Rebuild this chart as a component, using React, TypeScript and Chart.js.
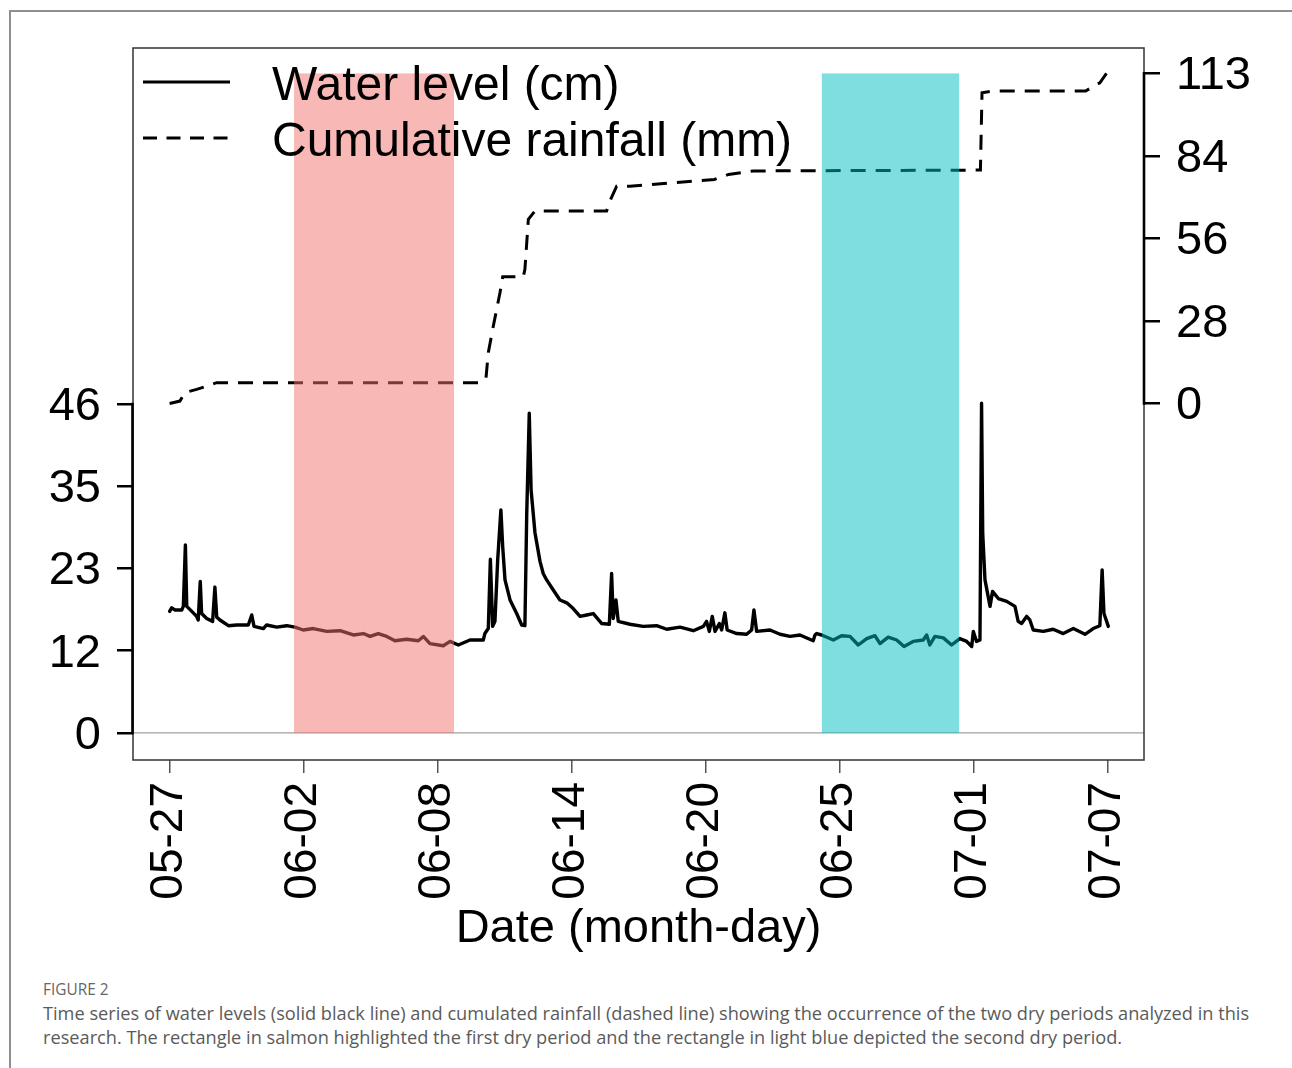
import React, { useEffect, useRef } from "react";
import { Chart, registerables } from "chart.js";

Chart.register(...registerables);

const FONT = "'Liberation Sans', Arial, Helvetica, sans-serif";

// ---- Data (x = days since 05-27) ----
const xTickValues = [0, 5.857, 11.714, 17.571, 23.429, 29.286, 35.143, 41];
const xTickLabels = ["05-27", "06-02", "06-08", "06-14", "06-20", "06-25", "07-01", "07-07"];

const leftTickValues = [0, 11.5, 23, 34.5, 46];
const leftTickLabels = ["0", "12", "23", "35", "46"];

const rightTickValues = [0, 28.25, 56.5, 84.75, 113];
const rightTickLabels = ["0", "28", "56", "84", "113"];

const waterDays = [
  0.0, 0.09, 0.24, 0.53, 0.6, 0.69, 0.75, 0.97, 1.18, 1.25, 1.34, 1.4, 1.62, 1.88, 1.98, 2.06, 2.2, 2.57, 2.93,
  3.44, 3.59, 3.69, 4.1, 4.24, 4.68, 5.12, 5.48, 5.84, 6.28, 6.87, 7.45, 8.03, 8.47, 8.76, 9.12, 9.49, 9.85,
  10.36, 10.87, 11.09, 11.38, 11.96, 12.26, 12.62, 13.13, 13.71, 13.78, 13.93, 14.02, 14.12, 14.22, 14.34,
  14.48, 14.56, 14.66, 14.88, 15.17, 15.39, 15.53, 15.61, 15.72, 15.8, 15.97, 16.19, 16.33, 16.48, 16.77,
  17.06, 17.36, 17.64, 17.94, 18.23, 18.52, 18.89, 19.22, 19.32, 19.39, 19.51, 19.61, 20.12, 20.7, 21.29,
  21.73, 22.31, 22.89, 23.33, 23.47, 23.59, 23.72, 23.84, 24.03, 24.13, 24.27, 24.37, 24.79, 25.22, 25.44,
  25.54, 25.66, 26.24, 26.68, 27.12, 27.55, 28.13, 28.21, 28.28, 28.5, 29.01, 29.37, 29.74, 30.1, 30.47,
  30.83, 31.05, 31.41, 31.78, 32.1, 32.5, 32.94, 33.09, 33.23, 33.45, 33.82, 34.18, 34.54, 34.84, 35.06,
  35.13, 35.27, 35.42, 35.49, 35.54, 35.64, 35.86, 35.97, 36.22, 36.59, 36.95, 37.09, 37.24, 37.46, 37.6,
  37.75, 38.19, 38.62, 39.06, 39.5, 40.01, 40.37, 40.66, 40.76, 40.84, 41.03,
];
const waterLevel = [
  17.0, 17.5, 17.2, 17.2, 17.7, 26.3, 17.7, 17.0, 16.3, 15.8, 21.2, 16.7, 16.0, 15.6, 20.4, 16.2, 15.8, 15.0, 15.1,
  15.1, 16.5, 14.9, 14.6, 15.1, 14.8, 15.0, 14.8, 14.4, 14.6, 14.2, 14.3, 13.7, 13.9, 13.5, 13.9, 13.5, 12.9,
  13.1, 12.9, 13.5, 12.5, 12.2, 12.8, 12.3, 13.0, 13.0, 13.9, 14.6, 24.3, 14.9, 15.6, 24.2,
  31.2, 26.0, 21.4, 18.6, 16.7, 15.1, 15.0, 30.7, 44.7, 34.0, 28.0, 24.0, 22.3, 21.4, 20.0,
  18.6, 18.2, 17.4, 16.3, 16.5, 16.7, 15.3, 15.2, 22.3, 16.0, 18.6, 15.6, 15.2, 14.9, 15.0,
  14.5, 14.8, 14.3, 14.9, 15.6, 14.2, 16.3, 14.2, 15.3, 14.4, 16.8, 14.4, 13.9, 13.8, 14.4,
  17.2, 14.2, 14.4, 13.8, 13.5, 13.7, 12.9, 13.7, 13.9, 13.7, 13.0, 13.6, 13.5, 12.3, 13.2,
  13.6, 12.5, 13.4, 13.0, 12.1, 12.8, 13.0, 13.7, 12.3, 13.5, 13.3, 12.3, 13.2, 12.8, 12.1,
  14.2, 12.8, 13.0, 46.1, 27.9, 21.4, 17.7, 19.8, 18.8, 18.4, 17.7, 15.6, 15.3, 16.3, 15.8,
  14.4, 14.2, 14.5, 13.9, 14.6, 13.8, 14.6, 15.0, 22.8, 16.7, 14.9,
];

const rainDays = [
  0, 0.45, 0.67, 1.18, 1.62, 2.06, 13.57, 13.83, 13.93, 14.15, 14.44, 14.56, 15.46, 15.53, 15.68, 15.97,
  19.1, 19.28, 19.54, 20.12, 23.81, 24.43, 25.52, 35.44, 35.51, 35.98, 40.04, 40.66, 40.95,
];
const rainCum = [
  0, 0.8, 3.7, 4.8, 5.9, 7.1, 7.1, 8.8, 17.4, 26.5, 37.9, 43.4, 43.4, 45.9, 63.0, 65.9,
  65.9, 69.9, 74.4, 74.4, 76.7, 78.4, 79.6, 79.9, 106.4, 107.0, 107.0, 109.8, 113.0,
];

const dryStart = [5.44, 28.51];
const dryEnd = [12.43, 34.51];
const dryColors = ["rgba(241,113,107,0.5)", "rgba(0,190,192,0.5)"];

const overlayPlugin = {
  id: "overlay",
  beforeDatasetsDraw(chart: any) {
    const { ctx, chartArea: a, scales } = chart;
    const y0 = scales.y.getPixelForValue(0);
    ctx.save();
    ctx.strokeStyle = "#a0a0a0";
    ctx.lineWidth = 1.3;
    ctx.beginPath();
    ctx.moveTo(a.left, y0);
    ctx.lineTo(a.right, y0);
    ctx.stroke();
    ctx.restore();
  },
  afterDatasetsDraw(chart: any) {
    const { ctx, chartArea: a, scales } = chart;
    const x = scales.x;
    const y = scales.y;
    const y2 = scales.y2;
    ctx.save();
    // dry periods
    const top = y2.getPixelForValue(rightTickValues[rightTickValues.length - 1]);
    const bot = y.getPixelForValue(0);
    dryStart.forEach((s, i) => {
      const x1 = x.getPixelForValue(s);
      const x2 = x.getPixelForValue(dryEnd[i]);
      ctx.fillStyle = dryColors[i];
      ctx.fillRect(x1, top, x2 - x1, bot - top);
    });
    // legend
    const ds = chart.data.datasets;
    const rows = [a.top + 34, a.top + 90];
    ds.forEach((d: any, i: number) => {
      ctx.strokeStyle = "#000";
      ctx.lineWidth = 3;
      ctx.setLineDash(i === 1 ? [14, 9.5] : []);
      ctx.beginPath();
      ctx.moveTo(a.left + 10, rows[i]);
      ctx.lineTo(a.left + 97, rows[i]);
      ctx.stroke();
      ctx.setLineDash([]);
      ctx.fillStyle = "#000";
      ctx.font = `48px ${FONT}`;
      ctx.textBaseline = "alphabetic";
      ctx.textAlign = "left";
      ctx.fillText(d.label, a.left + 139, rows[i] + 18);
    });
    // frame
    ctx.strokeStyle = "#333";
    ctx.lineWidth = 1.5;
    ctx.strokeRect(a.left, a.top, a.right - a.left, a.bottom - a.top);
    // axis lines
    ctx.strokeStyle = "#000";
    ctx.lineWidth = 2.6;
    ctx.beginPath();
    ctx.moveTo(a.left - 0.5, y.getPixelForValue(leftTickValues[0]) + 1.3);
    ctx.lineTo(a.left - 0.5, y.getPixelForValue(leftTickValues[leftTickValues.length - 1]) - 1.3);
    ctx.moveTo(a.right, y2.getPixelForValue(rightTickValues[0]) + 1.3);
    ctx.lineTo(a.right, y2.getPixelForValue(rightTickValues[rightTickValues.length - 1]) - 1.3);
    ctx.stroke();
    ctx.restore();
  },
};

export default function App() {
  const ref = useRef<HTMLCanvasElement>(null);
  useEffect(() => {
    const canvas = ref.current!;
    const chart = new Chart(canvas, {
      type: "line",
      data: {
        datasets: [
          {
            label: "Water level (cm)",
            data: waterDays.map((d, i) => ({ x: d, y: waterLevel[i] })),
            borderColor: "#000",
            borderWidth: 3.4,
            pointRadius: 0,
            tension: 0,
            yAxisID: "y",
            borderJoinStyle: "round",
            borderCapStyle: "round",
          },
          {
            label: "Cumulative rainfall (mm)",
            data: rainDays.map((d, i) => ({ x: d, y: rainCum[i] })),
            borderColor: "#000",
            borderWidth: 3,
            borderDash: [15, 10],
            pointRadius: 0,
            tension: 0,
            yAxisID: "y2",
          },
        ],
      },
      options: {
        responsive: false,
        animation: false,
        layout: { padding: { top: 48, left: 0, right: 0, bottom: 0 } },
        plugins: { legend: { display: false }, tooltip: { enabled: false } },
        scales: {
          x: {
            type: "linear",
            min: -1.6,
            max: 42.59,
            afterBuildTicks: (s: any) => {
              s.ticks = xTickValues.map((v) => ({ value: v }));
            },
            afterFit: (s: any) => {
              s.height = 210;
            },
            ticks: {
              autoSkip: false,
              minRotation: 90,
              maxRotation: 90,
              padding: 9,
              color: "#000",
              font: { family: FONT, size: 46 },
              callback: (_v: any, i: number) => xTickLabels[i],
            },
            grid: { drawOnChartArea: false, tickLength: 13, tickColor: "#555", lineWidth: 1.5, tickWidth: 1.5 },
            border: { display: false },
            title: {
              display: true,
              text: "Date (month-day)",
              color: "#000",
              font: { family: FONT, size: 47 },
              padding: { top: 0, bottom: 13 },
            },
          },
          y: {
            position: "left",
            min: -3.78,
            max: 95.78,
            afterBuildTicks: (s: any) => {
              s.ticks = leftTickValues.map((v) => ({ value: v }));
            },
            afterFit: (s: any) => {
              s.width = 133;
            },
            ticks: {
              padding: 16,
              color: "#000",
              font: { family: FONT, size: 47, lineHeight: 0.13 },
              callback: (_v: any, i: number) => ["", leftTickLabels[i]],
            },
            grid: { drawOnChartArea: false, tickLength: 16, tickColor: "#000", lineWidth: 2.5, tickWidth: 2.5 },
            border: { display: false },
          },
          y2: {
            position: "right",
            min: -122.1,
            max: 121.7,
            afterBuildTicks: (s: any) => {
              s.ticks = rightTickValues.map((v) => ({ value: v }));
            },
            afterFit: (s: any) => {
              s.width = 148;
            },
            ticks: {
              padding: 16,
              color: "#000",
              font: { family: FONT, size: 47, lineHeight: 0.13 },
              callback: (_v: any, i: number) => ["", rightTickLabels[i]],
            },
            grid: { drawOnChartArea: false, tickLength: 16, tickColor: "#000", lineWidth: 2.5, tickWidth: 2.5 },
            border: { display: false },
          },
        },
      },
      plugins: [overlayPlugin],
    } as any);
    return () => chart.destroy();
  }, []);

  return (
    <div
      style={{
        position: "absolute",
        left: 0,
        top: 0,
        width: 1292,
        height: 1068,
        overflow: "hidden",
        background: "#fff",
      }}
    >
      <div
        style={{
          position: "absolute",
          left: 9,
          top: 10,
          width: 1400,
          height: 1200,
          borderTop: "2px solid #8f8f8f",
          borderLeft: "2px solid #8f8f8f",
        }}
      />
      <canvas
        ref={ref}
        width={1292}
        height={970}
        style={{ position: "absolute", left: 0, top: 0, width: 1292, height: 970 }}
      />
      <div
        style={{
          position: "absolute",
          left: 43,
          top: 980,
          fontFamily: "'Open Sans', sans-serif",
          fontSize: 15.4,
          lineHeight: "20px",
          color: "#666",
          whiteSpace: "nowrap",
        }}
      >
        FIGURE 2
      </div>
      <div
        style={{
          position: "absolute",
          left: 43,
          top: 1001,
          fontFamily: "'Open Sans', sans-serif",
          fontSize: 18.2,
          lineHeight: "24px",
          color: "#5a5a5a",
          whiteSpace: "nowrap",
        }}
      >
        Time series of water levels (solid black line) and cumulated rainfall (dashed line) showing the occurrence of
        the two dry periods analyzed in this
        <br />
        research. The rectangle in salmon highlighted the first dry period and the rectangle in light blue depicted the
        second dry period.
      </div>
    </div>
  );
}
